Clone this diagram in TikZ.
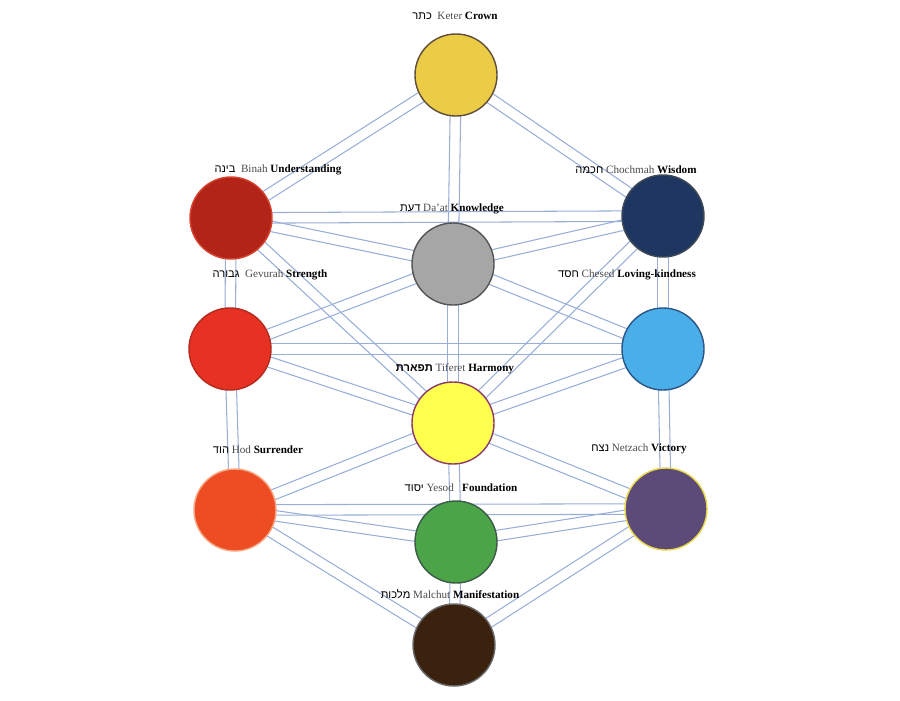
\documentclass[tikz,border=0pt]{standalone}
\usepackage{fontspec}
\setmainfont{Liberation Serif}
\newfontfamily\hebfont[Script=Hebrew]{Liberation Sans}
\TeXXeTstate=1
\usepackage{tikz}
\usetikzlibrary{calc, backgrounds}
\definecolor{chanblue}{HTML}{98AED8}
\definecolor{txtgray}{HTML}{4A4A4A}
\definecolor{keterfill}{HTML}{ECCB46}
\definecolor{keterrim}{HTML}{5E4E3A}
\definecolor{binahfill}{HTML}{B22318}
\definecolor{binahrim}{HTML}{D8432E}
\definecolor{chochfill}{HTML}{1F3660}
\definecolor{chochrim}{HTML}{3E4A58}
\definecolor{daatfill}{HTML}{A6A6A6}
\definecolor{daatrim}{HTML}{555555}
\definecolor{gevfill}{HTML}{E73223}
\definecolor{gevrim}{HTML}{B42A1E}
\definecolor{chesfill}{HTML}{4AAEE9}
\definecolor{chesrim}{HTML}{2A5688}
\definecolor{tiffill}{HTML}{FFFF4D}
\definecolor{tifrim}{HTML}{8C3A6C}
\definecolor{hodfill}{HTML}{EE4D24}
\definecolor{hodrim}{HTML}{F6A784}
\definecolor{netzfill}{HTML}{5C4B78}
\definecolor{netzrim}{HTML}{E9D84A}
\definecolor{yesfill}{HTML}{4BA548}
\definecolor{yesrim}{HTML}{3C5A48}
\definecolor{malfill}{HTML}{3A220E}
\definecolor{malrim}{HTML}{6A6A6A}
\tikzset{
  sefira/.style = {circle, draw, line width=1.2pt, minimum size=2.46cm,
                   inner sep=0pt},
  chan/.style   = {draw=chanblue, line width=0.9pt},
  slab/.style   = {font=\fontsize{9.5}{10.5}\selectfont, inner sep=1pt},
}
\newcommand{\hebw}[1]{{\hebfont\beginR #1\endR}}
\newcommand{\translit}[1]{\textcolor{txtgray}{#1}}

\begin{document}
\begin{tikzpicture}[x=0.03cm, y=-0.03cm]
  \useasboundingbox (0,0) rectangle (900,700);
  \node[sefira, fill=keterfill, draw=keterrim] (keter)    at (456,75)  {};
  \node[sefira, fill=binahfill, draw=binahrim] (binah)    at (231,218) {};
  \node[sefira, fill=chochfill, draw=chochrim] (chochmah) at (663,216) {};
  \node[sefira, fill=daatfill,  draw=daatrim]  (daat)     at (453,264) {};
  \node[sefira, fill=gevfill,   draw=gevrim]   (gevurah)  at (230,349) {};
  \node[sefira, fill=chesfill,  draw=chesrim]  (chesed)   at (663,349) {};
  \node[sefira, fill=tiffill,   draw=tifrim]   (tiferet)  at (453,423) {};
  \node[sefira, fill=hodfill,   draw=hodrim]   (hod)      at (235,510) {};
  \node[sefira, fill=netzfill,  draw=netzrim]  (netzach)  at (666,509) {};
  \node[sefira, fill=yesfill,   draw=yesrim]   (yesod)    at (456,542) {};
  \node[sefira, fill=malfill,   draw=malrim]   (malchut)  at (454,645) {};
  % paths, two thin lines each
  \begin{scope}[on background layer]
    \foreach \a/\b in {keter/binah, keter/chochmah, keter/daat, daat/tiferet,
        binah/chochmah, binah/daat, chochmah/daat, binah/gevurah,
        chochmah/chesed, binah/tiferet, chochmah/tiferet, gevurah/daat,
        chesed/daat, gevurah/chesed, gevurah/tiferet, chesed/tiferet,
        gevurah/hod, chesed/netzach, hod/tiferet, netzach/tiferet,
        tiferet/yesod, hod/netzach, hod/yesod, netzach/yesod,
        hod/malchut, netzach/malchut, yesod/malchut}{
      \draw[chan] ($(\a)!4.5pt!90:(\b)$) -- ($(\b)!4.5pt!-90:(\a)$);
      \draw[chan] ($(\a)!4.5pt!-90:(\b)$) -- ($(\b)!4.5pt!90:(\a)$);
    }
  \end{scope}
  \node[slab] (keterlab) at (455,16)  {\hebw{כתר}\ \ \translit{Keter} \textbf{Crown}};
  \node[slab] (binahlab) at (278,170) {\hebw{בינה}\ \ \translit{Binah} \textbf{Understanding}};
  \node[slab] (chochlab) at (636,170) {\hebw{חכמה} \translit{Chochmah} \textbf{Wisdom}};
  \node[slab] (daatlab)  at (452,209) {\hebw{דעת} \translit{Da'at} \textbf{Knowledge}};
  \node[slab] (gevlab)   at (270,275) {\hebw{גבורה}\ \ \translit{Gevurah} \textbf{Strength}};
  \node[slab] (cheslab)  at (627,275) {\hebw{חסד} \translit{Chesed} \textbf{Loving-kindness}};
  \node[slab] (tiflab)   at (455,369) {\hebw{\bfseries תפארת} \translit{Tiferet} \textbf{Harmony}};
  \node[slab] (hodlab)   at (258,450) {\hebw{הוד} \translit{Hod} \textbf{Surrender}};
  \node[slab] (netzlab)  at (639,449) {\hebw{נצח} \translit{Netzach} \textbf{Victory}};
  \node[slab] (yeslab)   at (461,488) {\hebw{יסוד} \translit{Yesod}\ \ \ \textbf{Foundation}};
  \node[slab] (mallab)   at (450,594) {\hebw{מלכות} \translit{Malchut} \textbf{Manifestation}};
\end{tikzpicture}
\end{document}
